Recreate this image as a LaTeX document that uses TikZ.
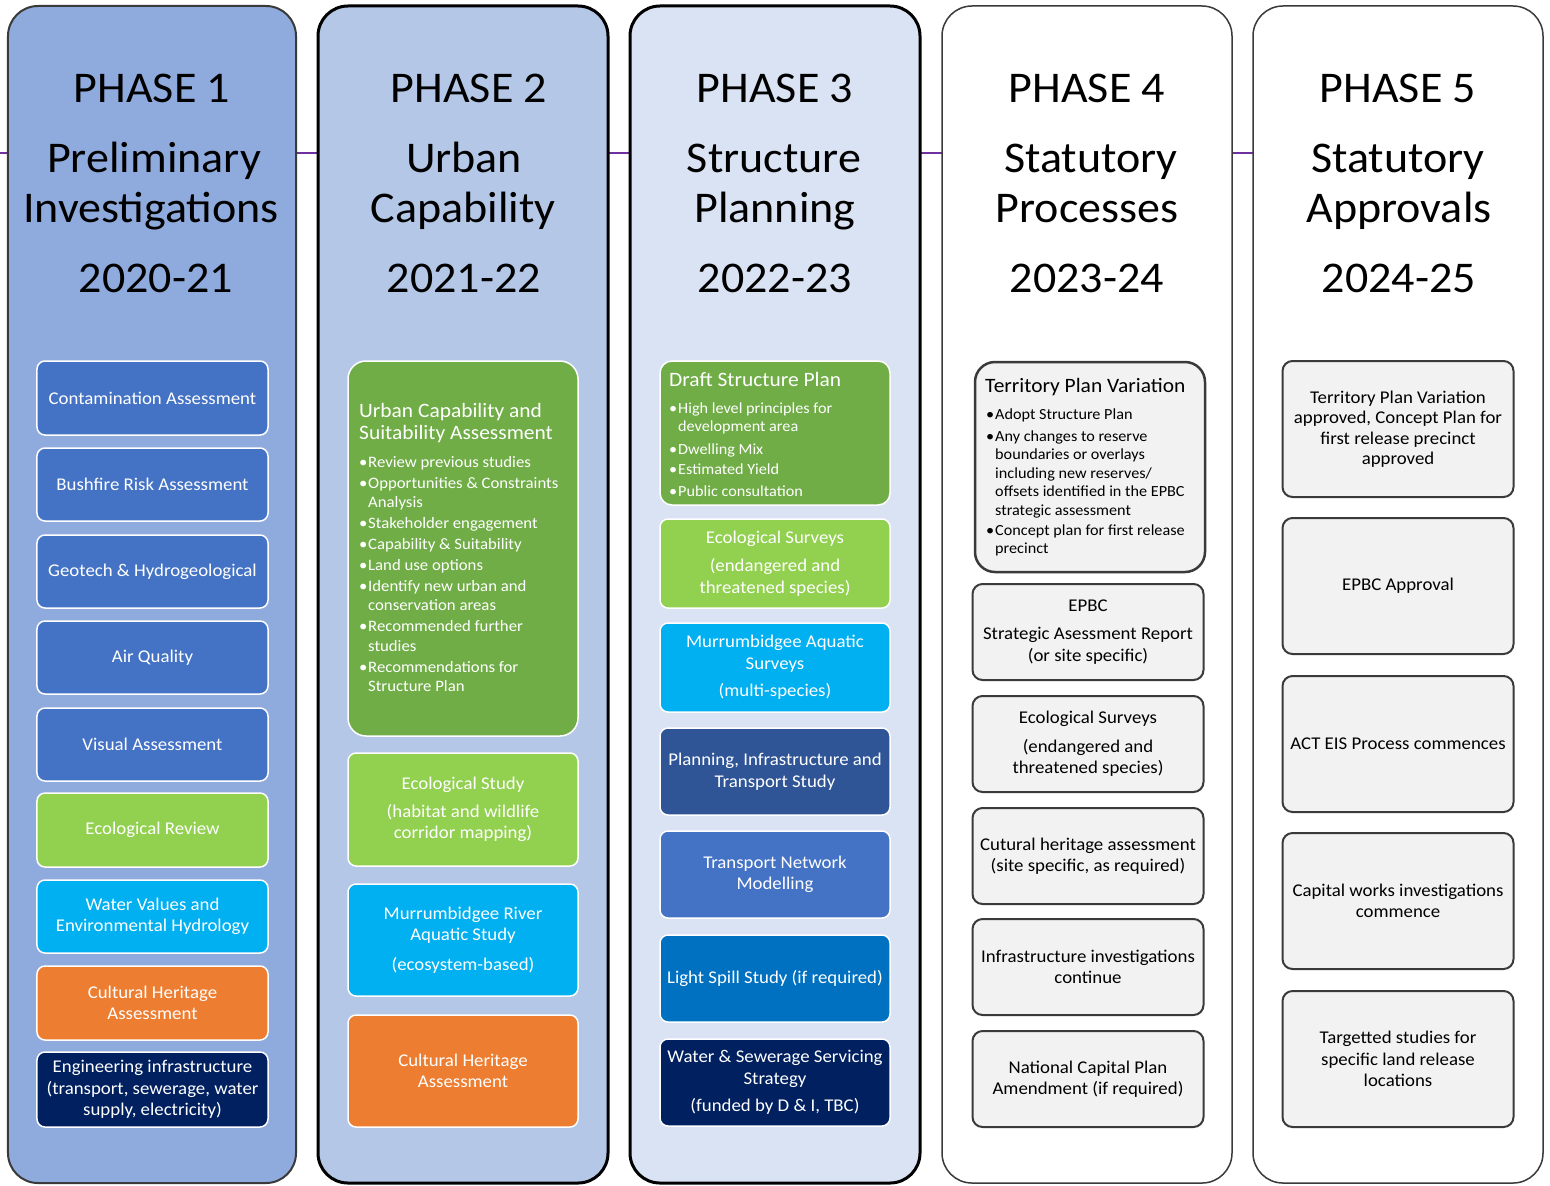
\documentclass[tikz,border=0pt]{standalone}
\usepackage{fontspec}
\setmainfont[FakeStretch=1.05]{Carlito}
\definecolor{cOnefill}{HTML}{8FAADC}
\definecolor{cTwofill}{HTML}{B4C7E7}
\definecolor{cThreefill}{HTML}{DAE3F3}
\definecolor{mblue}{HTML}{4472C4}
\definecolor{lgreen}{HTML}{92D050}
\definecolor{dgreen}{HTML}{70AD47}
\definecolor{cyanb}{HTML}{00B0F0}
\definecolor{orangeb}{HTML}{ED7D31}
\definecolor{navyb}{HTML}{002060}
\definecolor{dblue}{HTML}{2F5597}
\definecolor{lsblue}{HTML}{0070C0}
\definecolor{greyfill}{HTML}{F2F2F2}
\definecolor{greyline}{HTML}{3A3A3A}
\definecolor{purpleline}{HTML}{7030A0}
\newcommand\boxfont{\fontsize{18}{21.5}\selectfont}
\newcommand\headfont{\fontsize{44}{50}\selectfont}
\newcommand\bitem[1]{\makebox[9bp][l]{\textbullet}#1}
\newcommand\bcont[1]{\hspace*{9bp}#1}
\begin{document}
\begin{tikzpicture}[x=1bp,y=-1bp,
  colbox/.style={rounded corners=30bp, minimum height=1177bp, inner sep=0pt, outer sep=0pt},
  head/.style={anchor=base, font=\headfont, text=black, inner sep=0pt},
  box/.style={draw=white, line width=1.5bp, rounded corners=8bp, minimum width=231bp,
    inner sep=2bp, align=center, text=white, font=\boxfont},
  gbox/.style={draw=greyline, fill=greyfill, line width=2bp, rounded corners=10bp,
    minimum width=231bp, minimum height=96bp, inner sep=2bp, align=center, text=black, font=\boxfont},
  wbox/.style={gbox, minimum height=136bp},
  listtitle/.style={anchor=north west, inner sep=0pt, align=left, text=white, font=\fontsize{20.5}{22}\selectfont},
  listbody/.style={anchor=north west, inner sep=0pt, align=left, text=white}
]
\useasboundingbox (0,0) rectangle (1550,1185);
\fill[white] (0,0) rectangle (1550,1185);

% connecting line
\coordinate (lstart) at (0,153);
\coordinate (lend) at (1254,153);
\draw[purpleline, line width=2bp] (lstart) -- (lend);

% columns
\node[colbox, minimum width=288bp, fill=cOnefill, draw=greyline, line width=2bp] (c1) at (152,594.5) {};
\node[colbox, minimum width=290bp, fill=cTwofill, draw=black, line width=3bp] (c2) at (463,594.5) {};
\node[colbox, minimum width=290bp, fill=cThreefill, draw=black, line width=3bp] (c3) at (775,594.5) {};
\node[colbox, minimum width=290bp, fill=white, draw=greyline, line width=1.5bp] (c4) at (1087,594.5) {};
\node[colbox, minimum width=290bp, fill=white, draw=greyline, line width=1.5bp] (c5) at (1398,594.5) {};

% headings
\node[head] (h1a) at (152,102) {PHASE 1};
\node[head] (h1b) at (154,172) {Preliminary};
\node[head] (h1c) at (151,222) {Investigations};
\node[head] (h1d) at (156,292) {2020-21};

\node[head] (h2a) at (469,102) {PHASE 2};
\node[head] (h2b) at (464,172) {Urban};
\node[head] (h2c) at (463,222) {Capability};
\node[head] (h2d) at (464,292) {2021-22};

\node[head] (h3a) at (775,102) {PHASE 3};
\node[head] (h3b) at (774,172) {Structure};
\node[head] (h3c) at (775,222) {Planning};
\node[head] (h3d) at (775,292) {2022-23};

\node[head] (h4a) at (1087,102) {PHASE 4};
\node[head] (h4b) at (1091,172) {Statutory};
\node[head] (h4c) at (1087,222) {Processes};
\node[head] (h4d) at (1087,292) {2023-24};

\node[head] (h5a) at (1398,102) {PHASE 5};
\node[head] (h5b) at (1398,172) {Statutory};
\node[head] (h5c) at (1399,222) {Approvals};
\node[head] (h5d) at (1399,292) {2024-25};

% column 1
\node[box, fill=mblue, minimum height=74bp] (p1a) at (152.5,398) {Contamination Assessment};
\node[box, fill=mblue, minimum height=73bp] (p1b) at (152.5,484.5) {Bushfire Risk Assessment};
\node[box, fill=mblue, minimum height=73bp] (p1c) at (152.5,571.5) {Geotech \& Hydrogeological};
\node[box, fill=mblue, minimum height=73bp] (p1d) at (152.5,657.5) {Air Quality};
\node[box, fill=mblue, minimum height=73bp] (p1e) at (152.5,744.5) {Visual Assessment};
\node[box, fill=lgreen, minimum height=74bp] (p1f) at (152.5,830) {Ecological Review};
\node[box, fill=cyanb, minimum height=73bp] (p1g) at (152.5,916.5) {Water Values and\\Environmental Hydrology};
\node[box, fill=orangeb, minimum height=74bp] (p1h) at (152.5,1003) {Cultural Heritage\\Assessment};
\node[box, fill=navyb, minimum height=75bp] (p1i) at (152.5,1089.5) {Engineering infrastructure\\(transport, sewerage, water\\supply, electricity)};

% column 2
\node[box, fill=dgreen, minimum width=230bp, minimum height=375bp, rounded corners=18bp] (p2a) at (463,548.5) {};
\node[listtitle] (p2at) at (359,403) {Urban Capability and\\Suitability Assessment};
\node[listbody, font=\fontsize{16}{19.5}\selectfont] (p2ab) at (359,456) {%
\bitem{Review previous studies}\\[1.5bp]
\bitem{Opportunities \& Constraints}\\
\bcont{Analysis}\\[1.5bp]
\bitem{Stakeholder engagement}\\[1.5bp]
\bitem{Capability \& Suitability}\\[1.5bp]
\bitem{Land use options}\\[1.5bp]
\bitem{Identify new urban and}\\
\bcont{conservation areas}\\[1.5bp]
\bitem{Recommended further}\\
\bcont{studies}\\[1.5bp]
\bitem{Recommendations for}\\
\bcont{Structure Plan}};
\node[box, fill=lgreen, minimum width=230bp, minimum height=113bp] (p2b) at (463,809.5) {Ecological Study\\[6bp](habitat and wildlife\\corridor mapping)};
\node[box, fill=cyanb, minimum width=230bp, minimum height=112bp] (p2c) at (463,940) {Murrumbidgee River\\Aquatic Study\\[8bp](ecosystem-based)};
\node[box, fill=orangeb, minimum width=230bp, minimum height=112bp] (p2d) at (463,1071) {Cultural Heritage\\Assessment};

% column 3
\node[box, fill=dgreen, minimum width=230bp, minimum height=144bp, rounded corners=12bp] (p3a) at (775,433) {};
\node[listtitle] (p3at) at (669,372) {Draft Structure Plan};
\node[listbody, font=\fontsize{15.5}{17.5}\selectfont] (p3ab) at (669,403) {%
\bitem{High level principles for}\\
\bcont{development area}\\[5.5bp]
\bitem{Dwelling Mix}\\[2.5bp]
\bitem{Estimated Yield}\\[4.5bp]
\bitem{Public consultation}};
\node[box, fill=lgreen, minimum width=230bp, minimum height=89bp] (p3b) at (775,563.5) {Ecological Surveys\\[7bp](endangered and\\threatened species)};
\node[box, fill=cyanb, minimum width=230bp, minimum height=89bp] (p3c) at (775,667.5) {Murrumbidgee Aquatic\\Surveys\\[6bp](multi-species)};
\node[box, fill=dblue, minimum width=230bp, minimum height=87bp] (p3d) at (775,771.5) {Planning, Infrastructure and\\Transport Study};
\node[box, fill=mblue, minimum width=230bp, minimum height=87bp] (p3e) at (775,874.5) {Transport Network\\Modelling};
\node[box, fill=lsblue, minimum width=230bp, minimum height=87bp] (p3f) at (775,978.5) {Light Spill Study (if required)};
\node[box, fill=navyb, minimum width=230bp, minimum height=87bp] (p3g) at (775,1082.5) {Water \& Sewerage Servicing\\Strategy\\[6bp](funded by D \& I, TBC)};

% column 4
\node[gbox, minimum width=230bp, minimum height=210bp, rounded corners=20bp, line width=2.5bp] (p4a) at (1090,467) {};
\node[listtitle, text=black] (p4at) at (985,378) {Territory Plan Variation};
\node[listbody, text=black, font=\fontsize{15.5}{18.5}\selectfont] (p4ab) at (986,409) {%
\bitem{Adopt Structure Plan}\\[3bp]
\bitem{Any changes to reserve}\\
\bcont{boundaries or overlays}\\
\bcont{including new reserves/}\\
\bcont{offsets identified in the EPBC}\\
\bcont{strategic assessment}\\[2bp]
\bitem{Concept plan for first release}\\
\bcont{precinct}};
\node[gbox] (p4b) at (1088,632) {EPBC\\[7bp]Strategic Asessment Report\\(or site specific)};
\node[gbox] (p4c) at (1088,744) {Ecological Surveys\\[7bp](endangered and\\threatened species)};
\node[gbox] (p4d) at (1088,856) {Cutural heritage assessment\\(site specific, as required)};
\node[gbox] (p4e) at (1088,967) {Infrastructure investigations\\continue};
\node[gbox] (p4f) at (1088,1079) {National Capital Plan\\Amendment (if required)};

% column 5
\node[wbox, font=\fontsize{18}{20.5}\selectfont] (p5a) at (1398,429) {Territory Plan Variation\\approved, Concept Plan for\\first release precinct\\approved};
\node[wbox] (p5b) at (1398,586) {EPBC Approval};
\node[wbox] (p5c) at (1398,744) {ACT EIS Process commences};
\node[wbox] (p5d) at (1398,901) {Capital works investigations\\commence};
\node[wbox] (p5e) at (1398,1059) {Targetted studies for\\specific land release\\locations};
\end{tikzpicture}
\end{document}
